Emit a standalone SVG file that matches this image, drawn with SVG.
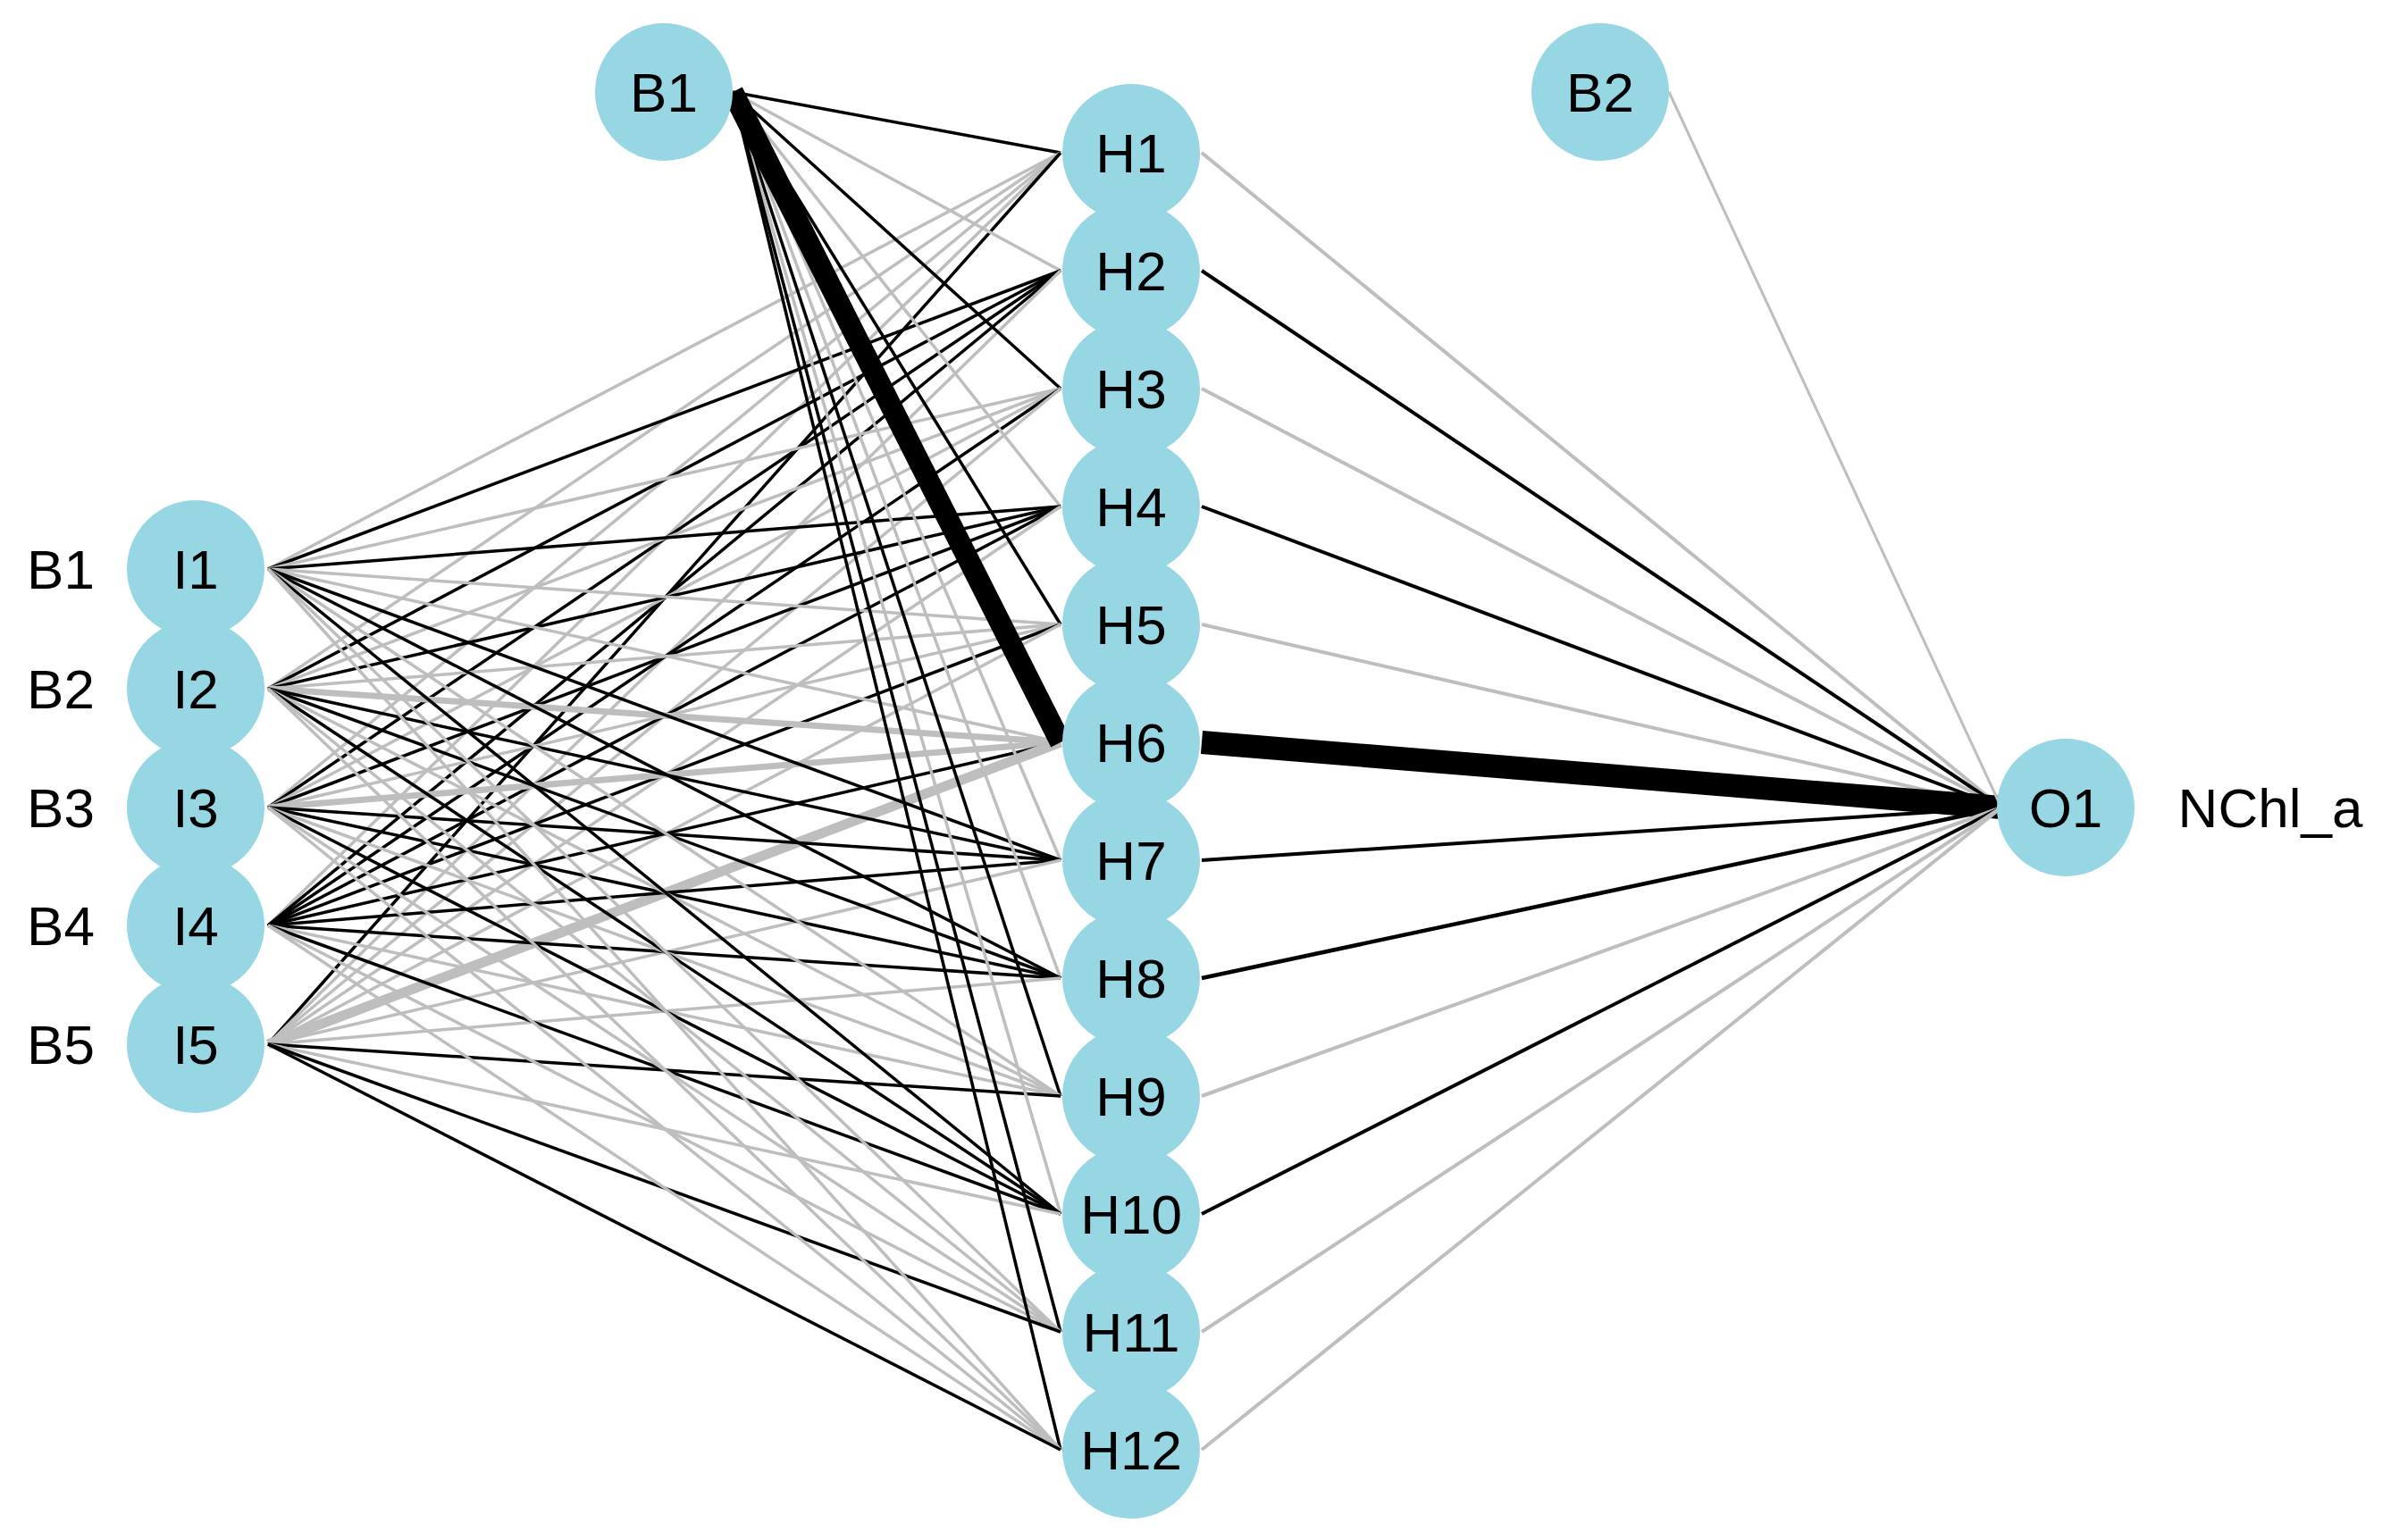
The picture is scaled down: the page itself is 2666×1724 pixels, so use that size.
<svg xmlns="http://www.w3.org/2000/svg" width="2666" height="1724" viewBox="0 0 2666 1724">
<style>
.k{stroke:#000;stroke-width:3.5;fill:none}
.g{stroke:#bebebe;stroke-width:3.5;fill:none}
.n{fill:#97d7e4}
text{font-family:"Liberation Sans",Arial,sans-serif;font-size:62px;fill:#000;dominant-baseline:central}
.c{text-anchor:middle}
</style>
<rect width="2666" height="1724" fill="#fff"/>
<g id="connectors">
<g>
<line class="k" x1="820" y1="103" x2="1187" y2="171"/><line class="g" x1="300" y1="637" x2="1187" y2="171"/><line class="g" x1="300" y1="771" x2="1187" y2="171"/><line class="g" x1="300" y1="904" x2="1187" y2="171"/><line class="g" x1="300" y1="1036" x2="1187" y2="171"/><line class="k" x1="300" y1="1169" x2="1187" y2="171"/>
<line class="g" x1="820" y1="103" x2="1187" y2="303"/><line class="k" x1="300" y1="637" x2="1187" y2="303"/><line class="k" x1="300" y1="771" x2="1187" y2="303"/><line class="k" x1="300" y1="904" x2="1187" y2="303"/><line class="k" x1="300" y1="1036" x2="1187" y2="303"/><line class="g" x1="300" y1="1169" x2="1187" y2="303"/>
<line class="k" x1="820" y1="103" x2="1187" y2="435"/><line class="g" x1="300" y1="637" x2="1187" y2="435"/><line class="g" x1="300" y1="771" x2="1187" y2="435"/><line class="g" x1="300" y1="904" x2="1187" y2="435"/><line class="k" x1="300" y1="1036" x2="1187" y2="435"/><line class="g" x1="300" y1="1169" x2="1187" y2="435"/>
<line class="g" x1="820" y1="103" x2="1187" y2="567"/><line class="k" x1="300" y1="637" x2="1187" y2="567"/><line class="k" x1="300" y1="771" x2="1187" y2="567"/><line class="k" x1="300" y1="904" x2="1187" y2="567"/><line class="k" x1="300" y1="1036" x2="1187" y2="567"/><line class="g" x1="300" y1="1169" x2="1187" y2="567"/>
<line class="k" x1="820" y1="103" x2="1187" y2="699"/><line class="g" x1="300" y1="637" x2="1187" y2="699"/><line class="g" x1="300" y1="771" x2="1187" y2="699"/><line class="g" x1="300" y1="904" x2="1187" y2="699"/><line class="k" x1="300" y1="1036" x2="1187" y2="699"/><line class="g" x1="300" y1="1169" x2="1187" y2="699"/>
<line class="g" x1="300" y1="637" x2="1187" y2="831"/><line class="g" x1="300" y1="771" x2="1187" y2="831" style="stroke-width:7"/><line class="g" x1="300" y1="904" x2="1187" y2="831" style="stroke-width:7"/><line class="k" x1="300" y1="1036" x2="1187" y2="831"/><line class="g" x1="300" y1="1169" x2="1187" y2="831" style="stroke-width:11"/>
<line class="g" x1="820" y1="103" x2="1187" y2="963"/><line class="k" x1="300" y1="637" x2="1187" y2="963"/><line class="k" x1="300" y1="771" x2="1187" y2="963"/><line class="k" x1="300" y1="904" x2="1187" y2="963"/><line class="k" x1="300" y1="1036" x2="1187" y2="963"/><line class="g" x1="300" y1="1169" x2="1187" y2="963"/>
<line class="g" x1="820" y1="103" x2="1187" y2="1095"/><line class="k" x1="300" y1="637" x2="1187" y2="1095"/><line class="k" x1="300" y1="771" x2="1187" y2="1095"/><line class="k" x1="300" y1="904" x2="1187" y2="1095"/><line class="k" x1="300" y1="1036" x2="1187" y2="1095"/><line class="g" x1="300" y1="1169" x2="1187" y2="1095"/>
<line class="k" x1="820" y1="103" x2="1187" y2="1227"/><line class="g" x1="300" y1="637" x2="1187" y2="1227"/><line class="g" x1="300" y1="771" x2="1187" y2="1227"/><line class="g" x1="300" y1="904" x2="1187" y2="1227"/><line class="g" x1="300" y1="1036" x2="1187" y2="1227"/><line class="k" x1="300" y1="1169" x2="1187" y2="1227"/>
<line class="g" x1="820" y1="103" x2="1187" y2="1359"/><line class="k" x1="300" y1="637" x2="1187" y2="1359"/><line class="k" x1="300" y1="771" x2="1187" y2="1359"/><line class="k" x1="300" y1="904" x2="1187" y2="1359"/><line class="k" x1="300" y1="1036" x2="1187" y2="1359"/><line class="g" x1="300" y1="1169" x2="1187" y2="1359"/>
<line class="k" x1="820" y1="103" x2="1187" y2="1491"/><line class="g" x1="300" y1="637" x2="1187" y2="1491"/><line class="g" x1="300" y1="771" x2="1187" y2="1491"/><line class="g" x1="300" y1="904" x2="1187" y2="1491"/><line class="g" x1="300" y1="1036" x2="1187" y2="1491"/><line class="k" x1="300" y1="1169" x2="1187" y2="1491"/>
<line class="k" x1="820" y1="103" x2="1187" y2="1623"/><line class="g" x1="300" y1="637" x2="1187" y2="1623"/><line class="g" x1="300" y1="771" x2="1187" y2="1623"/><line class="g" x1="300" y1="904" x2="1187" y2="1623"/><line class="g" x1="300" y1="1036" x2="1187" y2="1623"/><line class="k" x1="300" y1="1169" x2="1187" y2="1623"/>
<line class="k" x1="820" y1="103" x2="1187" y2="831" style="stroke-width:24"/>
</g>
<g>
<line class="g" x1="1345" y1="171" x2="2240" y2="904" style="stroke-width:4"/>
<line class="k" x1="1345" y1="303" x2="2240" y2="904" style="stroke-width:4"/>
<line class="g" x1="1345" y1="435" x2="2240" y2="904" style="stroke-width:4"/>
<line class="k" x1="1345" y1="567" x2="2240" y2="904" style="stroke-width:4"/>
<line class="g" x1="1345" y1="699" x2="2240" y2="904" style="stroke-width:4"/>
<line class="k" x1="1345" y1="831" x2="2240" y2="904" style="stroke-width:26"/>
<line class="k" x1="1345" y1="963" x2="2240" y2="904" style="stroke-width:4"/>
<line class="k" x1="1345" y1="1095" x2="2240" y2="904" style="stroke-width:4.5"/>
<line class="g" x1="1345" y1="1227" x2="2240" y2="904" style="stroke-width:4"/>
<line class="k" x1="1345" y1="1359" x2="2240" y2="904" style="stroke-width:4"/>
<line class="g" x1="1345" y1="1491" x2="2240" y2="904" style="stroke-width:4"/>
<line class="g" x1="1345" y1="1623" x2="2240" y2="904" style="stroke-width:4"/>
<line class="g" x1="1868" y1="103" x2="2240" y2="904" style="stroke-width:3"/>
</g>
</g>
<g id="I1"><circle class="n" cx="219" cy="637" r="77"/><text class="c" x="219" y="637">I1</text></g>
<g id="I2"><circle class="n" cx="219" cy="771" r="77"/><text class="c" x="219" y="771">I2</text></g>
<g id="I3"><circle class="n" cx="219" cy="904" r="77"/><text class="c" x="219" y="904">I3</text></g>
<g id="I4"><circle class="n" cx="219" cy="1036" r="77"/><text class="c" x="219" y="1036">I4</text></g>
<g id="I5"><circle class="n" cx="219" cy="1169" r="77"/><text class="c" x="219" y="1169">I5</text></g>
<g id="labels-in"><text class="c" x="68" y="637">B1</text><text class="c" x="68" y="771">B2</text><text class="c" x="68" y="904">B3</text><text class="c" x="68" y="1036">B4</text><text class="c" x="68" y="1169">B5</text></g>
<g id="B1"><circle class="n" cx="743" cy="103" r="77"/><text class="c" x="743" y="103">B1</text></g>
<g id="B2"><circle class="n" cx="1791" cy="103" r="77"/><text class="c" x="1791" y="103">B2</text></g>
<g id="H1"><circle class="n" cx="1266" cy="171" r="77"/><text class="c" x="1266" y="171">H1</text></g>
<g id="H2"><circle class="n" cx="1266" cy="303" r="77"/><text class="c" x="1266" y="303">H2</text></g>
<g id="H3"><circle class="n" cx="1266" cy="435" r="77"/><text class="c" x="1266" y="435">H3</text></g>
<g id="H4"><circle class="n" cx="1266" cy="567" r="77"/><text class="c" x="1266" y="567">H4</text></g>
<g id="H5"><circle class="n" cx="1266" cy="699" r="77"/><text class="c" x="1266" y="699">H5</text></g>
<g id="H6"><circle class="n" cx="1266" cy="831" r="77"/><text class="c" x="1266" y="831">H6</text></g>
<g id="H7"><circle class="n" cx="1266" cy="963" r="77"/><text class="c" x="1266" y="963">H7</text></g>
<g id="H8"><circle class="n" cx="1266" cy="1095" r="77"/><text class="c" x="1266" y="1095">H8</text></g>
<g id="H9"><circle class="n" cx="1266" cy="1227" r="77"/><text class="c" x="1266" y="1227">H9</text></g>
<g id="H10"><circle class="n" cx="1266" cy="1359" r="77"/><text class="c" x="1266" y="1359">H10</text></g>
<g id="H11"><circle class="n" cx="1266" cy="1491" r="77"/><text class="c" x="1266" y="1491">H11</text></g>
<g id="H12"><circle class="n" cx="1266" cy="1623" r="77"/><text class="c" x="1266" y="1623">H12</text></g>
<g id="O1"><circle class="n" cx="2312" cy="904" r="77"/><text class="c" x="2312" y="904">O1</text></g>
<g id="label-out"><text class="c" x="2541" y="904">NChl_a</text></g>
</svg>
